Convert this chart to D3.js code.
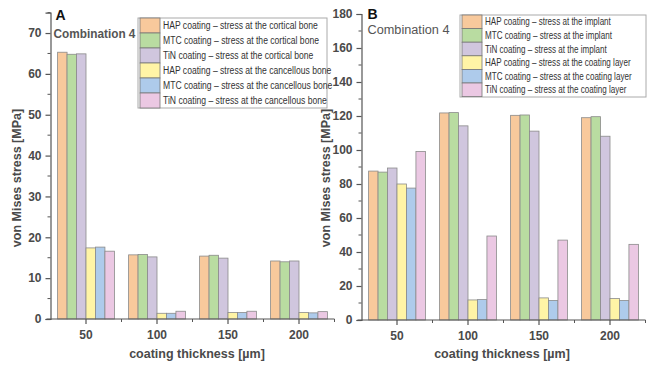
<!DOCTYPE html>
<html><head><meta charset="utf-8">
<script src="https://cdn.jsdelivr.net/npm/d3@7"></script>
<style>body{margin:0;background:#fff}svg{display:block}</style>
</head><body><svg id="c" width="649" height="365"></svg>
<script>
const categories = ["50","100","150","200"];
const colors = ["#F8C99C","#B9DCA1","#D0C6DE","#FFF4A6","#AECBEB","#EBC8E3"];
const seriesA = [
  "HAP coating \u2013 stress at the cortical bone",
  "MTC coating \u2013 stress at the cortical bone",
  "TiN coating \u2013 stress at the cortical bone",
  "HAP coating \u2013 stress at the cancellous bone",
  "MTC coating \u2013 stress at the cancellous bone",
  "TiN coating \u2013 stress at the cancellous bone"];
const valuesA = [
  [65.3,15.7,15.4,14.2],
  [64.8,15.8,15.6,14.0],
  [64.9,15.2,14.9,14.2],
  [17.4,1.4,1.6,1.6],
  [17.6,1.4,1.6,1.5],
  [16.6,1.9,1.9,1.8]];
const seriesB = [
  "HAP coating \u2013 stress at the implant",
  "MTC coating \u2013 stress at the implant",
  "TiN coating \u2013 stress at the implant",
  "HAP coating \u2013 stress at the coating layer",
  "MTC coating \u2013 stress at the coating layer",
  "TiN coating \u2013 stress at the coating layer"];
const valuesB = [
  [87.6,121.8,120.4,119.0],
  [87.0,122.0,120.6,119.6],
  [89.4,114.2,111.1,108.1],
  [80.0,11.8,13.0,12.6],
  [77.6,12.0,11.5,11.5],
  [99.1,49.4,47.0,44.5]];
const yTicksA = [0,10,20,30,40,50,60,70];
const yTicksB = [0,20,40,60,80,100,120,140,160,180];

const svg = d3.select("#c");
const txt = "#4a4a4a";
const FF = "Liberation Sans, Arial, sans-serif";

function panel(o){
  const g = svg.append("g");
  const x = d3.scaleBand().domain(categories).range([o.x0,o.x1]).padding(0);
  const y = d3.scaleLinear().domain([0,o.ymax]).range([o.y0,o.y1]);
  const bw = x.bandwidth();
  const gw = bw*0.8;
  const xs = d3.scaleBand().domain(d3.range(6)).range([0,gw]).padding(0);
  o.values.forEach((vals,si)=>{
    g.selectAll(null).data(vals).join("rect")
      .attr("x",(d,i)=>x(categories[i])+(bw-gw)/2+xs(si))
      .attr("y",d=>y(d))
      .attr("width",xs.bandwidth())
      .attr("height",d=>y(0)-y(d))
      .attr("fill",colors[si])
      .attr("stroke","#8a8a8a").attr("stroke-width",0.8);
  });
  const ya = d3.axisLeft(y).tickValues(o.yticks).tickSize(5).tickPadding(4).tickFormat(d3.format("d"));
  const yg = g.append("g").attr("transform",`translate(${o.x0},0)`).call(ya);
  yg.select(".domain").attr("stroke","#555").attr("stroke-width",1.2);
  yg.selectAll(".tick line").attr("stroke","#555").attr("stroke-width",1.2);
  yg.selectAll("text").attr("fill",txt).attr("font-family",FF)
    .attr("font-size",12).attr("font-weight","bold");
  const minor = d3.range(o.ystep/2, o.ymax+0.001, o.ystep).filter(v=>!o.yticks.includes(v));
  g.selectAll(null).data(minor).join("line")
    .attr("x1",o.x0-3).attr("x2",o.x0).attr("y1",d=>y(d)).attr("y2",d=>y(d))
    .attr("stroke","#555").attr("stroke-width",1);
  g.append("line").attr("x1",o.x0-4).attr("x2",o.x1).attr("y1",y(0)).attr("y2",y(0))
    .attr("stroke","#555").attr("stroke-width",1.2);
  const xa = d3.axisBottom(x).tickSize(5).tickPadding(6);
  const xg = g.append("g").attr("transform",`translate(0,${y(0)})`).call(xa);
  xg.select(".domain").remove();
  xg.selectAll(".tick line").attr("stroke","#555").attr("stroke-width",1.2);
  xg.selectAll("text").attr("fill",txt).attr("font-family",FF)
    .attr("font-size",12).attr("font-weight","bold");
  g.selectAll(null).data(categories).join("line")
    .attr("x1",(d,i)=>o.x0+bw*(i+1)).attr("x2",(d,i)=>o.x0+bw*(i+1))
    .attr("y1",y(0)).attr("y2",y(0)+3).attr("stroke","#555").attr("stroke-width",1);
  g.append("text").attr("x",o.xtx).attr("y",358).attr("text-anchor","middle")
    .attr("fill",txt).attr("font-family",FF).attr("font-size",12.5).attr("font-weight","bold")
    .text("coating thickness [\u00b5m]");
  g.append("text").attr("transform",`translate(${o.ytx},178) rotate(-90)`)
    .attr("text-anchor","middle").attr("dy","0.35em")
    .attr("fill",txt).attr("font-family",FF).attr("font-size",12.5).attr("font-weight","bold")
    .text("von Mises stress [MPa]");
  g.append("text").attr("x",o.x0+o.letterDx).attr("y",o.letterY).attr("fill","#111")
    .attr("font-family",FF).attr("font-size",14).attr("font-weight","bold").text(o.letter);
  const cg = g.append("g").attr("transform",`translate(${o.x0+o.combDx},${o.combY})`);
  const ct = cg.append("text").attr("fill","#555")
    .attr("font-family",FF).attr("font-size",13.5).attr("font-weight",o.combW).text("Combination 4");
  const cl = ct.node().getComputedTextLength();
  if (cl > 82) cg.attr("transform",`translate(${o.x0+o.combDx},${o.combY}) scale(${82/cl},1)`);
  const L = o.legend;
  g.append("rect").attr("x",L.x).attr("y",L.y).attr("width",L.w).attr("height",L.h)
    .attr("fill","#fff").attr("stroke","#aaa").attr("stroke-width",1);
  const texts = [];
  o.series.forEach((s,i)=>{
    const cy = L.y+L.top+i*L.step;
    g.append("rect").attr("x",L.x+2).attr("y",cy-L.step/2).attr("width",20).attr("height",L.step)
      .attr("fill",colors[i]).attr("stroke","#777").attr("stroke-width",0.8);
    const tg = g.append("g").attr("transform",`translate(${L.x+25},${cy})`);
    texts.push({g:tg, t:tg.append("text").attr("dy","0.35em").attr("fill","#333")
      .attr("font-family",FF).attr("font-size",10).text(s), cy});
  });
  const f = L.firstLen / texts[0].t.node().getComputedTextLength();
  texts.forEach(o2=>o2.g.attr("transform",`translate(${L.x+25},${o2.cy}) scale(${f},1)`));
}

panel({x0:50.5,x1:334.5,y0:319,y1:12.6,ymax:75,ystep:10,yticks:yTicksA,values:valuesA,series:seriesA,
  ytx:17,xtx:197,letter:"A",letterDx:5,letterY:20,combDx:3,combY:38,combW:"bold",
  legend:{x:138,y:18,w:189,h:90,top:7.5,step:15,firstLen:155}});
panel({x0:361.5,x1:645.5,y0:320,y1:14,ymax:180,ystep:20,yticks:yTicksB,values:valuesB,series:seriesB,
  ytx:326,xtx:502,letter:"B",letterDx:6,letterY:19,combDx:6,combY:34,combW:"normal",
  legend:{x:460,y:15,w:186,h:82,top:6.8,step:13.6,firstLen:126}});
</script></body></html>
